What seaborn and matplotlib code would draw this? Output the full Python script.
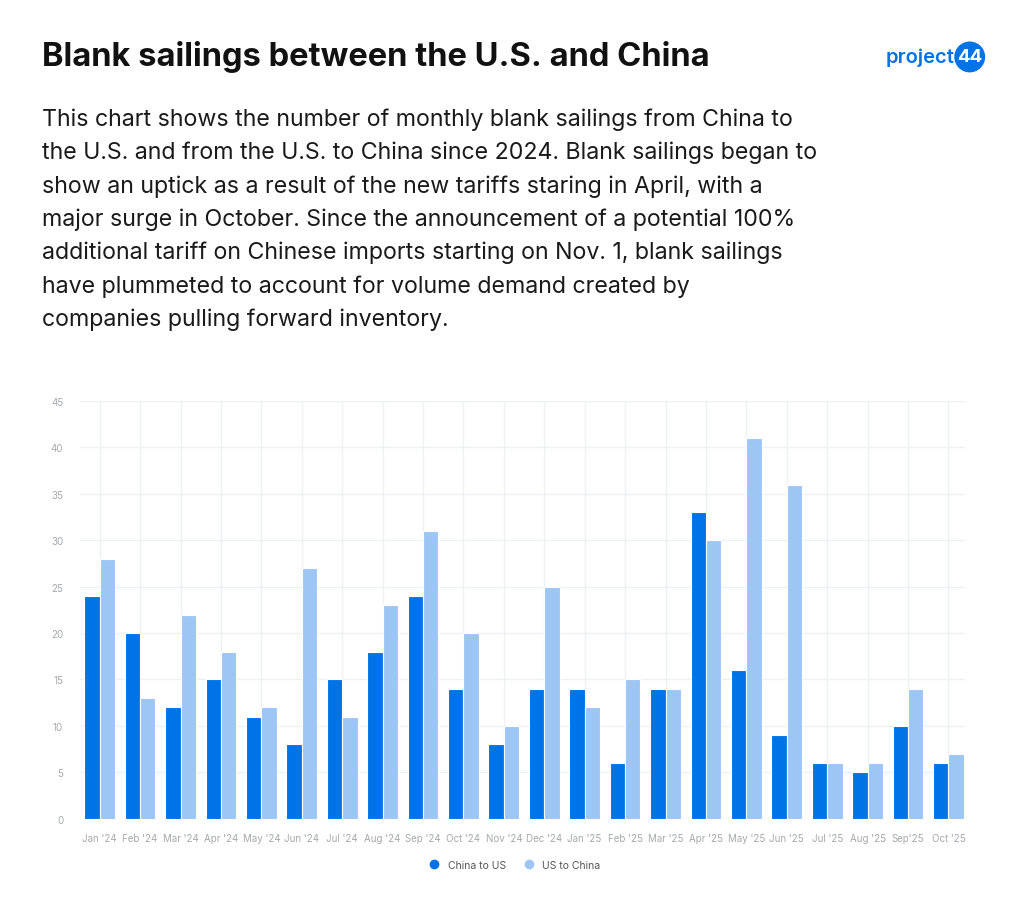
import pandas as pd
import matplotlib.pyplot as plt
import seaborn as sns
from matplotlib.lines import Line2D

# Chart data
months = ["Jan '24", "Feb '24", "Mar '24", "Apr '24", "May '24", "Jun '24",
          "Jul '24", "Aug '24", "Sep '24", "Oct '24", "Nov '24", "Dec '24",
          "Jan '25", "Feb '25", "Mar '25", "Apr '25", "May '25", "Jun '25",
          "Jul '25", "Aug '25", "Sep'25", "Oct '25"]
china_to_us = [24, 20, 12, 15, 11, 8, 15, 18, 24, 14, 8, 14,
               14, 6, 14, 33, 16, 9, 6, 5, 10, 6]
us_to_china = [28, 13, 22, 18, 12, 27, 11, 23, 31, 20, 10, 25,
               12, 15, 14, 30, 41, 36, 6, 6, 14, 7]
series_names = ["China to US", "US to China"]
y_ticks = [0, 5, 10, 15, 20, 25, 30, 35, 40, 45]

dark_blue = "#0073E6"
light_blue = "#9DC6F5"

title = "Blank sailings between the U.S. and China"
body = ("This chart shows the number of monthly blank sailings from China to\n"
        "the U.S. and from the U.S. to China since 2024. Blank sailings began to\n"
        "show an uptick as a result of the new tariffs staring in April, with a\n"
        "major surge in October. Since the announcement of a potential 100%\n"
        "additional tariff on Chinese imports starting on Nov. 1, blank sailings\n"
        "have plummeted to account for volume demand created by\n"
        "companies pulling forward inventory.")


def main():
    df = pd.DataFrame({
        "month": months * 2,
        "value": china_to_us + us_to_china,
        "series": [series_names[0]] * len(months) + [series_names[1]] * len(months),
    })

    sns.set_theme(style="white")
    plt.rcParams['font.family'] = ['Inter', 'DejaVu Sans']

    fig = plt.figure(figsize=(10.24, 9.2), dpi=100)
    ax = fig.add_axes([0.078, 0.109, 0.864, 0.454])

    sns.barplot(data=df, x="month", y="value", hue="series", order=months,
                hue_order=series_names, palette=[dark_blue, light_blue],
                saturation=1, width=0.76, edgecolor="white", linewidth=0.8,
                legend=False, ax=ax)

    ax.set_xlim(-0.49, len(months) - 0.6)
    ax.set_ylim(0, 45)
    ax.set_yticks(y_ticks)
    ax.set_xlabel("")
    ax.set_ylabel("")
    for s in ax.spines.values():
        s.set_visible(False)
    ax.grid(True, axis="both", color="#eef0f4", linewidth=1.0)
    ax.set_axisbelow(True)
    ax.tick_params(axis="both", length=0, labelsize=7, labelcolor="#a6a8ad")
    ax.tick_params(axis="y", pad=12)
    ax.tick_params(axis="x", pad=10)

    # legend
    handles = [Line2D([], [], marker="o", linestyle="", markersize=7,
                      markerfacecolor=c, markeredgecolor="none")
               for c in [dark_blue, light_blue]]
    fig.legend(handles, series_names, loc="center", bbox_to_anchor=(0.5, 0.059),
               ncol=2, frameon=False, fontsize=7.5, labelcolor="#555555",
               handletextpad=0.3, columnspacing=1.2)

    # header text
    fig.text(0.041, 0.938, title, fontsize=23.5, fontweight="bold",
             color="#111111", va="center", ha="left")
    fig.text(0.041, 0.882, body, fontsize=16.7, color="#1a1a1a",
             va="top", ha="left", linespacing=1.62)

    # logo
    fig.text(0.932, 0.937, "project", fontsize=14.5, fontweight="semibold",
             color=dark_blue, va="center", ha="right")
    fig.text(0.947, 0.937, "44", fontsize=13.5, fontweight="bold", color="white",
             va="center", ha="center",
             bbox=dict(boxstyle="circle,pad=0.15", fc=dark_blue, ec="none"))

    fig.savefig("out.png", dpi=100, facecolor="white")


if __name__ == '__main__':
    main()
